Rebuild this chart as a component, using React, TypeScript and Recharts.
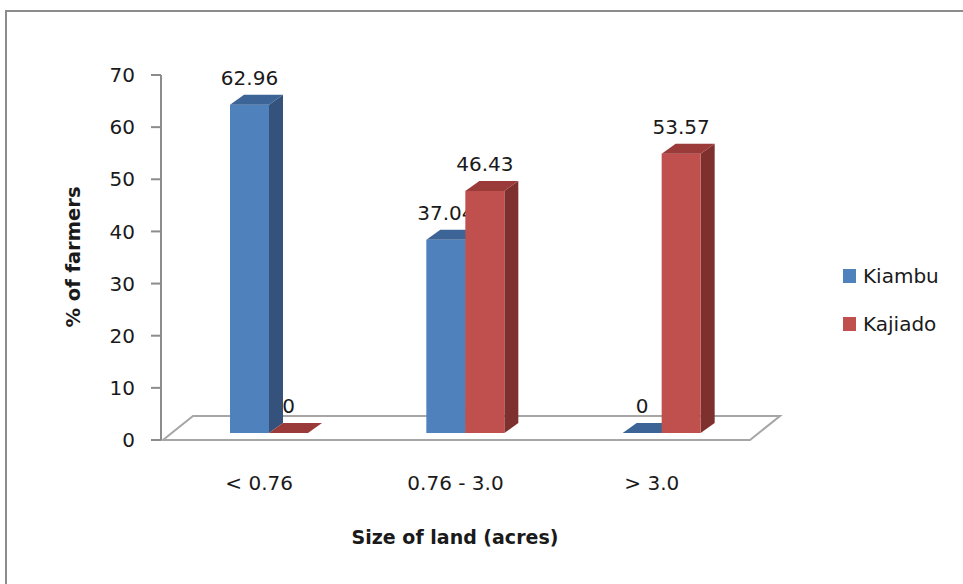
import { Bar, BarChart, ReferenceLine, XAxis, YAxis } from "recharts";

const categories = ["< 0.76", "0.76 - 3.0", "> 3.0"];
const kiambu = [62.96, 37.04, 0];
const kajiado = [0, 46.43, 53.57];
const yTicks = [0, 10, 20, 30, 40, 50, 60, 70];

const data = categories.map((name, i) => ({ name, kiambu: kiambu[i], kajiado: kajiado[i] }));

const FONT = "'DejaVu Sans', sans-serif";
const MARGIN = { top: 75, right: 213, left: 101, bottom: 104 };
// bars sit a little behind the floor's front edge
const SHIFT_X = 10;
const SHIFT_Y = -7;
const DEPTH_X = 14;
const DEPTH_Y = -10;

function makeBar(key: string, front: string, top: string, side: string) {
  return (props: any) => {
    const { x, y, width, height, payload } = props;
    const bx = x + SHIFT_X;
    const h = Math.max(height || 0, 0);
    const by = y + SHIFT_Y;
    const bottom = by + h;
    const sidePts = `${bx + width},${by} ${bx + width + DEPTH_X},${by + DEPTH_Y} ${bx + width + DEPTH_X},${bottom + DEPTH_Y} ${bx + width},${bottom}`;
    const topPts = `${bx},${by} ${bx + width},${by} ${bx + width + DEPTH_X},${by + DEPTH_Y} ${bx + DEPTH_X},${by + DEPTH_Y}`;
    return (
      <g>
        {h > 0 && <polygon points={sidePts} fill={side} />}
        {h > 0 && <rect x={bx} y={by} width={width} height={h} fill={front} />}
        <polygon points={topPts} fill={top} />
        <text
          x={bx + width / 2}
          y={by - 27}
          textAnchor="middle"
          dominantBaseline="central"
          fontFamily={FONT}
          fontSize={20}
          fill="#1a1a1a"
        >
          {payload[key]}
        </text>
      </g>
    );
  };
}

function Floor(props: any) {
  const { x1, y1, x2, y2 } = props;
  const pts = `${x1 + 2},${y1} ${x2},${y2} ${x2 + 30},${y2 - 24} ${x1 + 32},${y1 - 24}`;
  return <polygon points={pts} fill="#ffffff" stroke="#a6a6a6" strokeWidth={2} />;
}

const tickStyle = { fontFamily: FONT, fontSize: 20, fill: "#1a1a1a" };

export default function App() {
  return (
    <div
      style={{
        position: "absolute",
        left: 0,
        top: 0,
        width: 963,
        height: 584,
        overflow: "hidden",
        background: "#fff",
        fontFamily: FONT,
      }}
    >
      <div
        style={{
          position: "absolute",
          left: 5,
          top: 10,
          width: 1100,
          height: 800,
          border: "2px solid #8c8c8c",
        }}
      />
      {/* floor layer, kept underneath the bars */}
      <div style={{ position: "absolute", left: 0, top: 0 }}>
        <BarChart width={963} height={584} data={data} margin={MARGIN} barSize={39} barGap={0}>
          <XAxis dataKey="name" height={40} axisLine={false} tickLine={false} tick={false} />
          <YAxis
            width={60}
            domain={[0, 70]}
            ticks={yTicks}
            axisLine={false}
            tickLine={false}
            tick={false}
          />
          <ReferenceLine y={0} shape={<Floor />} />
          <Bar dataKey="kiambu" fill="none" isAnimationActive={false} />
          <Bar dataKey="kajiado" fill="none" isAnimationActive={false} />
        </BarChart>
      </div>
      <div style={{ position: "absolute", left: 0, top: 0 }}>
        <BarChart width={963} height={584} data={data} margin={MARGIN} barSize={39} barGap={0}>
          <XAxis
            dataKey="name"
            height={40}
            axisLine={false}
            tickLine={false}
            tickMargin={30}
            tick={tickStyle}
          />
          <YAxis
            width={60}
            domain={[0, 70]}
            ticks={yTicks}
            interval={0}
            tickSize={10}
            tickMargin={16}
            axisLine={{ stroke: "#8c8c8c", strokeWidth: 2 }}
            tickLine={{ stroke: "#8c8c8c", strokeWidth: 2 }}
            tick={tickStyle}
          />
          <Bar
            dataKey="kiambu"
            isAnimationActive={false}
            shape={makeBar("kiambu", "#4f81bd", "#3c6496", "#34527b")}
          />
          <Bar
            dataKey="kajiado"
            isAnimationActive={false}
            shape={makeBar("kajiado", "#c0504d", "#9a3b39", "#7e302e")}
          />
        </BarChart>
      </div>
      <div
        style={{
          position: "absolute",
          left: 73,
          top: 257,
          transform: "translate(-50%, -50%) rotate(-90deg)",
          whiteSpace: "nowrap",
          fontWeight: "bold",
          fontSize: 19.5,
          color: "#1a1a1a",
        }}
      >
        % of farmers
      </div>
      <div
        style={{
          position: "absolute",
          left: 455,
          top: 537,
          transform: "translate(-50%, -50%)",
          whiteSpace: "nowrap",
          fontWeight: "bold",
          fontSize: 19,
          color: "#1a1a1a",
        }}
      >
        Size of land (acres)
      </div>
      {[
        { name: "Kiambu", color: "#4f81bd", y: 276 },
        { name: "Kajiado", color: "#c0504d", y: 324 },
      ].map((item) => (
        <div
          key={item.name}
          style={{
            position: "absolute",
            left: 843,
            top: item.y,
            transform: "translateY(-50%)",
            display: "flex",
            alignItems: "center",
            gap: 7,
            fontSize: 20,
            color: "#1a1a1a",
          }}
        >
          <span style={{ width: 13, height: 14, background: item.color, display: "inline-block" }} />
          <span>{item.name}</span>
        </div>
      ))}
    </div>
  );
}
